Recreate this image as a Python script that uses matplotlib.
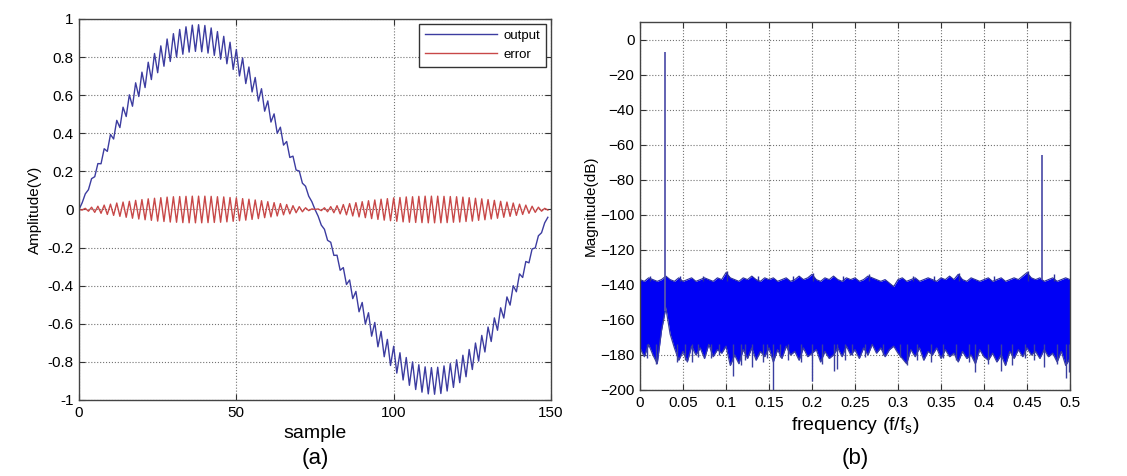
import numpy as np
import matplotlib
matplotlib.use("Agg")
import matplotlib.pyplot as plt

plt.rcParams['font.family'] = ['Liberation Sans', 'DejaVu Sans']

# ---- (a) time domain ----
output = [
    0.000, 0.035, 0.082, 0.104, 0.162, 0.172, 0.241, 0.240, 0.319, 0.305,
    0.394, 0.370, 0.468, 0.430, 0.537, 0.488, 0.602, 0.542, 0.665, 0.593,
    0.721, 0.640, 0.773, 0.682, 0.819, 0.718, 0.859, 0.752, 0.895, 0.777,
    0.923, 0.800, 0.945, 0.815, 0.959, 0.826, 0.968, 0.830, 0.970, 0.828,
    0.966, 0.821, 0.953, 0.809, 0.934, 0.789, 0.909, 0.765, 0.878, 0.735,
    0.840, 0.701, 0.796, 0.661, 0.748, 0.617, 0.693, 0.569, 0.634, 0.516,
    0.570, 0.459, 0.502, 0.400, 0.432, 0.338, 0.357, 0.273, 0.280, 0.207,
    0.202, 0.138, 0.122, 0.070, 0.041, 0.000, -0.035, -0.082, -0.104, -0.162,
    -0.172, -0.241, -0.240, -0.319, -0.305, -0.394, -0.370, -0.468, -0.430, -0.537,
    -0.488, -0.602, -0.542, -0.665, -0.593, -0.721, -0.640, -0.773, -0.682, -0.819,
    -0.718, -0.859, -0.752, -0.895, -0.777, -0.923, -0.800, -0.945, -0.815, -0.959,
    -0.826, -0.968, -0.830, -0.970, -0.828, -0.966, -0.821, -0.953, -0.809, -0.934,
    -0.789, -0.909, -0.765, -0.878, -0.735, -0.840, -0.701, -0.796, -0.661, -0.748,
    -0.617, -0.693, -0.569, -0.634, -0.516, -0.570, -0.459, -0.502, -0.400, -0.432,
    -0.338, -0.357, -0.273, -0.280, -0.207, -0.202, -0.138, -0.122, -0.070, -0.041,
]
error = [
    0.000, -0.003, 0.006, -0.009, 0.012, -0.015, 0.017, -0.020, 0.023, -0.026,
    0.028, -0.031, 0.034, -0.036, 0.039, -0.041, 0.043, -0.046, 0.048, -0.050,
    0.052, -0.054, 0.056, -0.057, 0.059, -0.061, 0.062, -0.063, 0.065, -0.066,
    0.067, -0.067, 0.068, -0.069, 0.069, -0.070, 0.070, -0.070, 0.070, -0.070,
    0.070, -0.069, 0.069, -0.068, 0.067, -0.067, 0.066, -0.065, 0.063, -0.062,
    0.061, -0.059, 0.057, -0.056, 0.054, -0.052, 0.050, -0.048, 0.046, -0.043,
    0.041, -0.039, 0.036, -0.034, 0.031, -0.028, 0.026, -0.023, 0.020, -0.017,
    0.015, -0.012, 0.009, -0.006, 0.003, 0.000, 0.003, -0.006, 0.009, -0.012,
    0.015, -0.017, 0.020, -0.023, 0.026, -0.028, 0.031, -0.034, 0.036, -0.039,
    0.041, -0.043, 0.046, -0.048, 0.050, -0.052, 0.054, -0.056, 0.057, -0.059,
    0.061, -0.062, 0.063, -0.065, 0.066, -0.067, 0.067, -0.068, 0.069, -0.069,
    0.070, -0.070, 0.070, -0.070, 0.070, -0.070, 0.069, -0.069, 0.068, -0.067,
    0.067, -0.066, 0.065, -0.063, 0.062, -0.061, 0.059, -0.057, 0.056, -0.054,
    0.052, -0.050, 0.048, -0.046, 0.043, -0.041, 0.039, -0.036, 0.034, -0.031,
    0.028, -0.026, 0.023, -0.020, 0.017, -0.015, 0.012, -0.009, 0.006, -0.003,
]
samples = np.arange(len(output))

# ---- (b) spectrum: noise floor envelope every 0.005 f/fs ----
freq_bins = np.linspace(0, 0.5, 101)
floor_top = [
    -137, -138, -136, -137, -138, -137, -135, -137, -138, -136,
    -138, -137, -136, -138, -137, -136, -137, -138, -136, -137,
    -133, -136, -137, -138, -136, -137, -135, -137, -138, -136,
    -137, -136, -138, -137, -136, -138, -137, -135, -137, -136,
    -134, -137, -138, -136, -137, -135, -137, -138, -136, -137,
    -136, -138, -137, -135, -136, -137, -138, -137, -139, -141,
    -137, -136, -138, -137, -136, -138, -137, -136, -137, -138,
    -136, -137, -135, -137, -134, -137, -138, -136, -137, -138,
    -137, -136, -138, -137, -136, -138, -137, -136, -137, -135,
    -133, -136, -137, -136, -138, -137, -136, -138, -137, -136,
    -137,
]
floor_bottom = [
    -176, -181, -174, -180, -185, -166, -153, -168, -176, -183,
    -178, -184, -175, -180, -176, -182, -174, -181, -177, -179,
    -175, -186, -180, -185, -177, -182, -176, -183, -178, -181,
    -176, -184, -177, -182, -175, -180, -178, -183, -176, -181,
    -179, -177, -184, -178, -182, -180, -176, -181, -175, -180,
    -177, -182, -176, -180, -174, -179, -176, -181, -177, -175,
    -179, -182, -185, -177, -181, -176, -183, -178, -180, -176,
    -182, -177, -181, -179, -184, -178, -182, -180, -185, -177,
    -181, -183, -179, -184, -180, -186, -178, -182, -177, -181,
    -176, -180, -178, -182, -177, -181, -179, -184, -178, -186,
    -182,
]
# isolated noise dips below the floor
dip_freq = [0.008, 0.018, 0.043, 0.052, 0.060, 0.068, 0.083, 0.092, 0.108, 0.117,
            0.122, 0.130, 0.143, 0.148, 0.155, 0.163, 0.172, 0.187, 0.200, 0.212,
            0.225, 0.229, 0.238, 0.247, 0.262, 0.283, 0.302, 0.310, 0.322, 0.338,
            0.352, 0.368, 0.383, 0.390, 0.405, 0.420, 0.433, 0.448, 0.458, 0.470,
            0.485, 0.495, 0.499]
dip_level = [-182, -185, -184, -183, -184, -181, -182, -180, -192, -186,
             -183, -187, -184, -182, -200, -181, -183, -184, -195, -185,
             -189, -188, -183, -180, -181, -180, -181, -186, -183, -184,
             -182, -183, -184, -190, -185, -189, -186, -182, -183, -187,
             -185, -193, -190]
# isolated peaks above the floor
peak_freq = [0.012, 0.047, 0.073, 0.101, 0.137, 0.178, 0.201, 0.236, 0.266, 0.318,
             0.342, 0.371, 0.412, 0.451, 0.482]
peak_level = [-135, -135, -135, -132, -135, -135, -133, -135, -134, -135,
              -135, -133, -135, -132, -134]
# tones
tone_freq = [0.0295, 0.468]
tone_level = [-7, -66]
tone_base = [-155, -137]

fig = plt.figure(figsize=(11.27, 4.76), dpi=100)
ax1 = fig.add_axes([0.0701, 0.1597, 0.4188, 0.8004])
ax2 = fig.add_axes([0.5679, 0.1807, 0.3815, 0.7731])

grid_kw = dict(color='0.45', linestyle=':', linewidth=0.8)

ax1.plot(samples, output, color='#3c3ca0', lw=1.0, label='output')
ax1.plot(samples, error, color='#c84848', lw=1.0, label='error')
ax1.set_xlim(0, 150)
ax1.set_ylim(-1, 1)
ax1.set_xticks([0, 50, 100, 150])
ax1.set_yticks(np.round(np.arange(-1, 1.01, 0.2), 1))
ax1.set_yticklabels(['-1', '-0.8', '-0.6', '-0.4', '-0.2', '0', '0.2', '0.4', '0.6', '0.8', '1'])
ax1.set_ylabel('Amplitude(V)', fontsize=11, labelpad=4)
ax1.set_xlabel('sample', fontsize=14, labelpad=4)
leg = ax1.legend(loc='upper right', fontsize=9.5, fancybox=False, framealpha=1,
                 edgecolor='#333333', handlelength=5.5, borderaxespad=0.35,
                 borderpad=0.45, labelspacing=0.5, handletextpad=0.5)
leg.get_frame().set_linewidth(1.0)

ax2.fill_between(freq_bins, floor_bottom, floor_top, color='#0000f5', lw=0)
ax2.plot(freq_bins, floor_top, color='#2a2f9a', lw=0.8)
ax2.plot(freq_bins, floor_bottom, color='#3a3fa0', lw=0.9)
ax2.vlines(dip_freq, -174, dip_level, color='#3a3fa0', lw=1.0)
ax2.vlines(peak_freq, -138, peak_level, color='#2a2f9a', lw=1.0)
ax2.vlines(tone_freq, tone_base, tone_level, color='#5656ad', lw=1.3)
ax2.set_xlim(0, 0.5)
ax2.set_ylim(-200, 10)
ax2.set_xticks(np.round(np.arange(0, 0.501, 0.05), 2))
ax2.set_xticklabels(['0', '0.05', '0.1', '0.15', '0.2', '0.25', '0.3', '0.35', '0.4', '0.45', '0.5'])
ax2.set_yticks(np.arange(-200, 1, 20))
ax2.set_ylabel('Magnitude(dB)', fontsize=11, labelpad=2)
ax2.set_xlabel('frequency (f/f$_\\mathregular{s}$)', fontsize=14, labelpad=4)

for ax in (ax1, ax2):
    ax.grid(True, **grid_kw)
    ax.set_axisbelow(True)
    ax.tick_params(direction='in', top=True, right=True, length=4,
                   labelsize=11, color='#333333', pad=4)
    for s in ax.spines.values():
        s.set_color('#444444')
        s.set_linewidth(1.0)

fig.text(0.0701 + 0.4188 / 2, 0.036, '(a)', ha='center', va='center', fontsize=16)
fig.text(0.5679 + 0.3815 / 2, 0.036, '(b)', ha='center', va='center', fontsize=16)

fig.savefig('out.png', dpi=100)
